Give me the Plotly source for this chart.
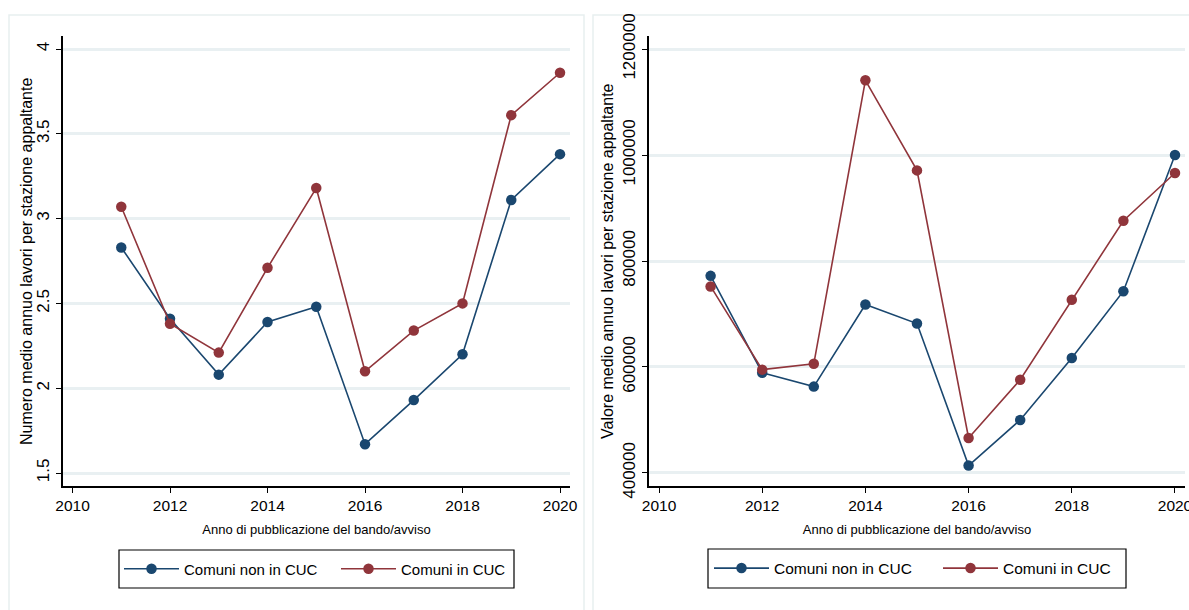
import plotly.graph_objects as go

# Anni di pubblicazione
anni = [2011, 2012, 2013, 2014, 2015, 2016, 2017, 2018, 2019, 2020]

# Numero medio annuo di lavori per stazione appaltante
numero_non_cuc = [2.83, 2.41, 2.08, 2.39, 2.48, 1.67, 1.93, 2.20, 3.11, 3.38]
numero_cuc = [3.07, 2.38, 2.21, 2.71, 3.18, 2.10, 2.34, 2.50, 3.61, 3.86]

# Valore medio annuo dei lavori per stazione appaltante (euro)
valore_non_cuc = [772000, 589000, 563000, 718000, 682000, 414000, 500000, 617000, 743000, 1000000]
valore_cuc = [752000, 595000, 606000, 1141000, 971000, 466000, 576000, 727000, 876000, 966000]

serie_nomi = ["Comuni non in CUC", "Comuni in CUC"]
titolo_x = "Anno di pubblicazione del bando/avviso"
titolo_y_numero = "Numero medio annuo lavori per stazione appaltante"
titolo_y_valore = "Valore medio annuo lavori per stazione appaltante"
x_ticks = [2010, 2012, 2014, 2016, 2018, 2020]
y_ticks_numero = [1.5, 2, 2.5, 3, 3.5, 4]
y_ticks_valore = [400000, 600000, 800000, 1000000, 1200000]

BLU = "#1a476f"
ROSSO = "#90353b"
GRIGLIA = "#e9f0f2"
BORDO = "#e8eff0"

W, H = 1189, 610
SANS = "Liberation Sans, Arial, Helvetica, sans-serif"


def px_x(p):
    return p / W


def px_y(p):
    return 1 - p / H


fig = go.Figure()

# Pannello sinistro: ogni serie ha una propria voce di legenda
for y_vals, nome, colore, leg in [(numero_non_cuc, serie_nomi[0], BLU, "legend"),
                                  (numero_cuc, serie_nomi[1], ROSSO, "legend2")]:
    fig.add_trace(go.Scatter(
        x=anni, y=y_vals, name=nome, mode="lines+markers",
        line=dict(color=colore, width=1.6),
        marker=dict(color=colore, size=10.5, symbol="circle"),
        xaxis="x", yaxis="y", legend=leg, showlegend=True,
    ))

# Pannello destro
for y_vals, nome, colore, leg in [(valore_non_cuc, serie_nomi[0], BLU, "legend3"),
                                  (valore_cuc, serie_nomi[1], ROSSO, "legend4")]:
    fig.add_trace(go.Scatter(
        x=anni, y=y_vals, name=nome, mode="lines+markers",
        line=dict(color=colore, width=1.6),
        marker=dict(color=colore, size=10.5, symbol="circle"),
        xaxis="x2", yaxis="y2", legend=leg, showlegend=True,
    ))

asse_x_comune = dict(
    automargin=False,
    tickmode="array", tickvals=x_ticks,
    ticks="outside", ticklen=5, tickwidth=1.3, tickcolor="black",
    showline=True, linecolor="black", linewidth=1.6,
    showgrid=False, zeroline=False,
    ticklabeloverflow="allow",
    tickfont=dict(family=SANS, size=15.5, color="black"),
    title=dict(text=titolo_x, font=dict(family=SANS, size=13, color="black"), standoff=11),
)
asse_y_comune = dict(
    automargin=False,
    ticks="outside", ticklen=5, tickwidth=1.3, tickcolor="black",
    showline=True, linecolor="black", linewidth=1.6,
    showgrid=True, gridcolor=GRIGLIA, gridwidth=2.5,
    zeroline=False, tickangle=-90,
    ticklabeloverflow="allow",
    tickfont=dict(family=SANS, size=17, color="black"),
)

dom_y = [px_y(486), px_y(36)]


def voce_legenda(x_px, y_px, size):
    return dict(
        orientation="h", x=px_x(x_px), xanchor="left", y=px_y(y_px), yanchor="middle",
        borderwidth=0, bgcolor="rgba(0,0,0,0)", visible=True,
        font=dict(family=SANS, size=size, color="black"), itemwidth=55,
    )


fig.update_layout(
    template="none",
    showlegend=True,
    width=W, height=H,
    margin=dict(l=0, r=0, t=0, b=0, autoexpand=False),
    paper_bgcolor="white", plot_bgcolor="white",
    xaxis=dict(asse_x_comune, domain=[px_x(63), px_x(570)], range=[2009.805, 2020.205], anchor="y"),
    yaxis=dict(asse_y_comune, domain=dom_y, range=[1.4234, 4.0767], anchor="x",
               tickvals=y_ticks_numero),
    xaxis2=dict(asse_x_comune, domain=[px_x(649), px_x(1185)], range=[2009.806, 2020.194], anchor="y2"),
    yaxis2=dict(asse_y_comune, domain=dom_y, range=[375400, 1224600], anchor="x2",
                tickvals=y_ticks_valore, tickformat="d"),
    legend=voce_legenda(119, 569, 15),
    legend2=voce_legenda(336, 569, 15),
    legend3=voce_legenda(709, 568.5, 15.5),
    legend4=voce_legenda(938, 568.5, 15.5),
    annotations=[
        dict(text=titolo_y_numero, xref="paper", yref="paper",
             x=px_x(26), y=px_y(262), xanchor="center", yanchor="middle",
             textangle=-90, showarrow=False,
             font=dict(family=SANS, size=16, color="black")),
        dict(text=titolo_y_valore, xref="paper", yref="paper",
             x=px_x(607), y=px_y(261), xanchor="center", yanchor="middle",
             textangle=-90, showarrow=False,
             font=dict(family=SANS, size=16, color="black")),
    ],
    shapes=[
        # cornici dei due pannelli
        dict(type="rect", xref="paper", yref="paper", layer="below",
             x0=px_x(9), x1=px_x(584), y0=-0.05, y1=px_y(15),
             line=dict(color=BORDO, width=1.5)),
        dict(type="rect", xref="paper", yref="paper", layer="below",
             x0=px_x(593), x1=1.05, y0=-0.05, y1=px_y(15),
             line=dict(color=BORDO, width=1.5)),
        # riquadri delle legende
        dict(type="rect", xref="paper", yref="paper", layer="below",
             x0=px_x(119), x1=px_x(514), y0=px_y(588), y1=px_y(550),
             line=dict(color="black", width=1.2), fillcolor="white"),
        dict(type="rect", xref="paper", yref="paper", layer="below",
             x0=px_x(708), x1=px_x(1126), y0=px_y(588), y1=px_y(549),
             line=dict(color="black", width=1.2), fillcolor="white"),
    ],
)

fig.write_html("out.html")
